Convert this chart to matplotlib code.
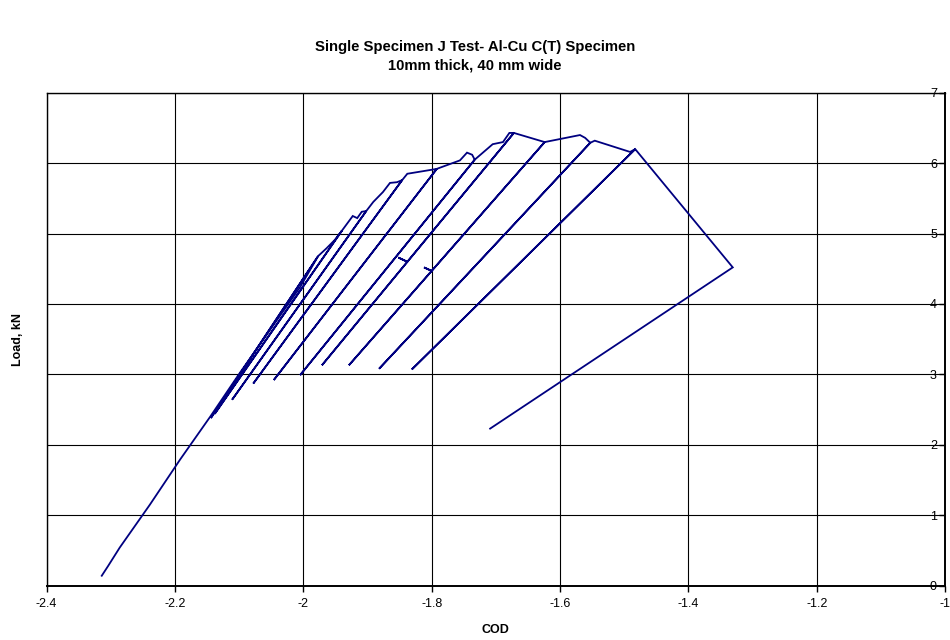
import matplotlib
matplotlib.use("Agg")
import matplotlib.pyplot as plt
import numpy as np

plt.rcParams['font.family'] = ['Liberation Sans', 'DejaVu Sans']

# loading envelope, COD vs load (kN)
env_cod = [-2.314, -2.304, -2.286, -2.239, -2.192, -2.145, -2.099, -2.052, -2.005, -1.977,
           -1.964, -1.951, -1.940,
           -1.923, -1.916, -1.909, -1.902,
           -1.891, -1.876, -1.865, -1.854, -1.846,
           -1.838, -1.798, -1.792,
           -1.756, -1.745, -1.737, -1.733,
           -1.705, -1.689, -1.679, -1.672,
           -1.624,
           -1.569, -1.561, -1.553,
           -1.546, -1.491, -1.483]
env_load = [0.14, 0.28, 0.54, 1.15, 1.79, 2.40, 3.02, 3.63, 4.24, 4.68,
            4.79, 4.91, 5.04,
            5.25, 5.22, 5.31, 5.32,
            5.45, 5.59, 5.72, 5.73, 5.76,
            5.85, 5.91, 5.92,
            6.04, 6.15, 6.12, 6.05,
            6.27, 6.30, 6.43, 6.43,
            6.30,
            6.40, 6.36, 6.29,
            6.32, 6.16, 6.20]

# unloading cycles: envelope index where unloading starts, and bottom of each unload
unload_at = [9, 12, 16, 21, 24, 28, 32, 33, 36, 39]
unload_cod = [-2.144, -2.138, -2.111, -2.078, -2.046, -2.005, -1.971, -1.929, -1.882, -1.831]
unload_load = [2.38, 2.44, 2.64, 2.87, 2.92, 2.99, 3.13, 3.13, 3.08, 3.07]

# small glitches on two unloading lines
spur_cycle = [6, 7]
spur_base_cod = [-1.838, -1.800]
spur_base_load = [4.60, 4.47]
spur_tip_cod = [-1.852, -1.812]
spur_tip_load = [4.66, 4.52]

# end of test
end_cod = [-1.331, -1.709]
end_load = [4.52, 2.23]

# build the full trace
xs, ys = [], []
start = 0
for k, idx in enumerate(unload_at):
    xs += env_cod[start:idx + 1]
    ys += env_load[start:idx + 1]
    if k in spur_cycle:
        j = spur_cycle.index(k)
        xs += [spur_base_cod[j], spur_tip_cod[j], spur_base_cod[j]]
        ys += [spur_base_load[j], spur_tip_load[j], spur_base_load[j]]
    xs += [unload_cod[k], env_cod[idx]]
    ys += [unload_load[k], env_load[idx]]
    start = idx + 1
xs += env_cod[start:] + end_cod
ys += env_load[start:] + end_load

fig = plt.figure(figsize=(9.5, 6.4), dpi=100)
ax = fig.add_axes([0.049, 0.085, 0.946, 0.770])

ax.plot(xs, ys, color='#000080', lw=1.3, solid_joinstyle='miter')

ax.set_xlim(-2.4, -1)
ax.set_ylim(0, 7)
xticks = [-2.4, -2.2, -2.0, -1.8, -1.6, -1.4, -1.2, -1.0]
xtick_labels = ['-2.4', '-2.2', '-2', '-1.8', '-1.6', '-1.4', '-1.2', '-1']
ax.set_xticks(xticks)
ax.set_xticklabels(xtick_labels, fontsize=9)
ax.set_yticks(range(0, 8))
ax.set_yticklabels([str(v) for v in range(0, 8)], fontsize=9)

ax.grid(True, color='black', lw=0.8)
ax.set_axisbelow(True)
for s in ax.spines.values():
    s.set_color('black')
    s.set_linewidth(1.0)
ax.spines['bottom'].set_linewidth(1.4)
ax.spines['right'].set_linewidth(1.4)

ax.tick_params(axis='x', direction='out', length=4, width=1, pad=5)
ax.yaxis.tick_right()
ax.tick_params(axis='y', direction='in', length=4, width=1, pad=-6)
for lbl in ax.get_yticklabels():
    lbl.set_ha('right')

ax.set_xlabel('COD', fontsize=9, fontweight='bold', labelpad=10)
fig.text(0.019, 0.47, 'Load, kN', rotation=90, fontsize=9, fontweight='bold',
         ha='center', va='center')
fig.suptitle('Single Specimen J Test- Al-Cu C(T) Specimen\n10mm thick, 40 mm wide',
             fontsize=10.7, fontweight='bold', y=0.937, linespacing=1.35)

fig.savefig('out.png', dpi=100)
